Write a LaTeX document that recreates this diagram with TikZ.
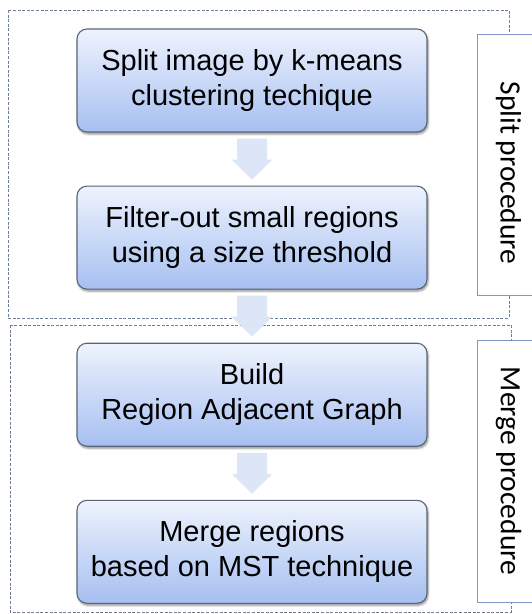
\documentclass[tikz,border=0pt]{standalone}
\usepackage{fontspec}
\setmainfont{Liberation Sans}
\newfontfamily\tagfont{Carlito}
\usepackage{tikz}
\usetikzlibrary{positioning,calc,shadows.blur}
\definecolor{ink}{HTML}{000000}
\definecolor{stepedge}{HTML}{5B6577}
\definecolor{steptop}{HTML}{EEF3FD}
\definecolor{stepbot}{HTML}{A6BFF1}
\definecolor{flowfill}{HTML}{DDE6F7}
\definecolor{groupline}{HTML}{6F7F98}
\definecolor{tagline}{HTML}{8195C8}

\begin{document}
\begin{tikzpicture}[
    x=1pt, y=1pt,
    node distance=53pt,
    stepbox/.style={rectangle, rounded corners=10pt, draw=stepedge, line width=1.1pt,
                    top color=steptop, bottom color=stepbot, text=ink,
                    minimum width=350pt, minimum height=103pt, align=center,
                    font=\fontsize{29}{35}\selectfont,
                    blur shadow={shadow xshift=1pt, shadow yshift=-2pt,
                                 shadow blur steps=6, shadow opacity=45}},
    groupbox/.style={draw=groupline, line width=0.9pt, dash pattern=on 3pt off 1.6pt},
    tagbox/.style={rectangle, draw=tagline, line width=0.8pt, fill=white, rotate=-90,
                   minimum width=#1, minimum height=63pt, text=ink,
                   font=\tagfont\fontsize{29.5}{32}\selectfont},
    flow/.style={fill=flowfill, draw=none}
]
\useasboundingbox (0,0) rectangle (532,-614);

% Procedure groups
\draw[groupbox] (8,-10) rectangle (509,-318);
\draw[groupbox] (10,-325) rectangle (511,-612);

% Steps
\node[stepbox] (split) at (252,-80.5) {Split image by k-means\\clustering techique};
\node[stepbox, below=of split] (filter) {Filter-out small regions\\using a size threshold};
\node[stepbox, below=of filter] (build) {Build\\Region Adjacent Graph};
\node[stepbox, below=of build] (merge) {Merge regions\\based on MST technique};

% Group labels
\node[tagbox=261pt] (splittag) at (508.5,-164.5) {\hspace*{17pt}Split procedure};
\node[tagbox=262pt] (mergetag) at (508.5,-471) {Merge procedure};

% Block arrows
\fill[flow] ($(split.south)+(-15,-6)$) -- ++(30,0) -- ++(0,-21) -- ++(5.5,0)
    -- ($(filter.north)+(0,6)$) -- ++(-20.5,20) -- ++(5.5,0) -- cycle;
\fill[flow] ($(filter.south)+(-15,-6)$) -- ++(30,0) -- ++(0,-21) -- ++(5.5,0)
    -- ($(build.north)+(0,6)$) -- ++(-20.5,20) -- ++(5.5,0) -- cycle;
\fill[flow] ($(build.south)+(-15,-6)$) -- ++(30,0) -- ++(0,-21) -- ++(5.5,0)
    -- ($(merge.north)+(0,6)$) -- ++(-20.5,20) -- ++(5.5,0) -- cycle;

\end{tikzpicture}
\end{document}
